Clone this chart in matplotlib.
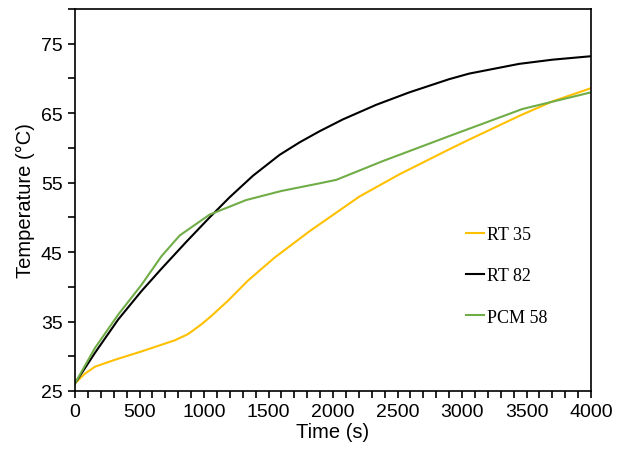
import matplotlib.pyplot as plt
from matplotlib.ticker import MultipleLocator

# temperature histories (s, degC)
t_rt35 = [0, 77, 155, 310, 516, 774, 877, 980, 1057, 1186, 1341, 1547, 1818, 2205, 2515, 2901, 3056, 3443, 3701, 4000]
T_rt35 = [26.1, 27.5, 28.5, 29.5, 30.7, 32.3, 33.2, 34.6, 35.8, 38.0, 40.9, 44.2, 48.0, 53.0, 56.2, 59.8, 61.2, 64.6, 66.7, 68.6]

t_rt82 = [0, 155, 335, 516, 670, 864, 1044, 1199, 1380, 1586, 1741, 1896, 2076, 2334, 2592, 2901, 3056, 3443, 3700, 4000]
T_rt82 = [26.1, 30.5, 35.3, 39.4, 42.6, 46.5, 50.0, 52.9, 56.0, 59.0, 60.8, 62.4, 64.1, 66.2, 68.0, 69.9, 70.7, 72.1, 72.7, 73.2]

t_pcm58 = [0, 155, 335, 516, 670, 812, 1044, 1328, 1600, 1896, 2025, 2386, 2901, 3468, 4000]
T_pcm58 = [26.1, 31.2, 36.0, 40.3, 44.4, 47.4, 50.4, 52.5, 53.8, 54.9, 55.4, 58.1, 61.7, 65.6, 68.0]

fig = plt.figure(figsize=(6.17, 4.52), dpi=100)
ax = fig.add_axes([75/617, 60/452, 516/617, 382/452])

ax.plot(t_rt35, T_rt35, color='#FFC000', lw=1.5, solid_joinstyle='round', label='RT 35')
ax.plot(t_rt82, T_rt82, color='black', lw=1.5, solid_joinstyle='round', label='RT 82')
ax.plot(t_pcm58, T_pcm58, color='#70AD47', lw=1.5, solid_joinstyle='round', label='PCM 58')

ax.set_xlim(0, 4000)
ax.set_ylim(25, 80)
ax.xaxis.set_major_locator(MultipleLocator(500))
ax.xaxis.set_minor_locator(MultipleLocator(100))
ax.set_yticks([25, 35, 45, 55, 65, 75])
ax.yaxis.set_minor_locator(MultipleLocator(5))
ax.tick_params(which='both', direction='out', length=5, width=1.2,
               labelsize=14, pad=4)
for lab in ax.get_xticklabels() + ax.get_yticklabels():
    lab.set_family('Liberation Sans')
for s in ax.spines.values():
    s.set_linewidth(1.2)

ax.set_xlabel('Time (s)', fontsize=14.5, family='Liberation Sans', labelpad=1)
ax.set_ylabel('Temperature (°C)', fontsize=14.5, family='Liberation Sans', labelpad=4)

ax.legend(loc='upper left', bbox_to_anchor=(466/617, 1 - 227/452),
          bbox_transform=fig.transFigure, frameon=False,
          prop={'family': 'Liberation Serif', 'size': 13},
          handlelength=1.0, handletextpad=0.15, labelspacing=1.35,
          borderpad=0, borderaxespad=0)

fig.savefig('out.png', dpi=100)
